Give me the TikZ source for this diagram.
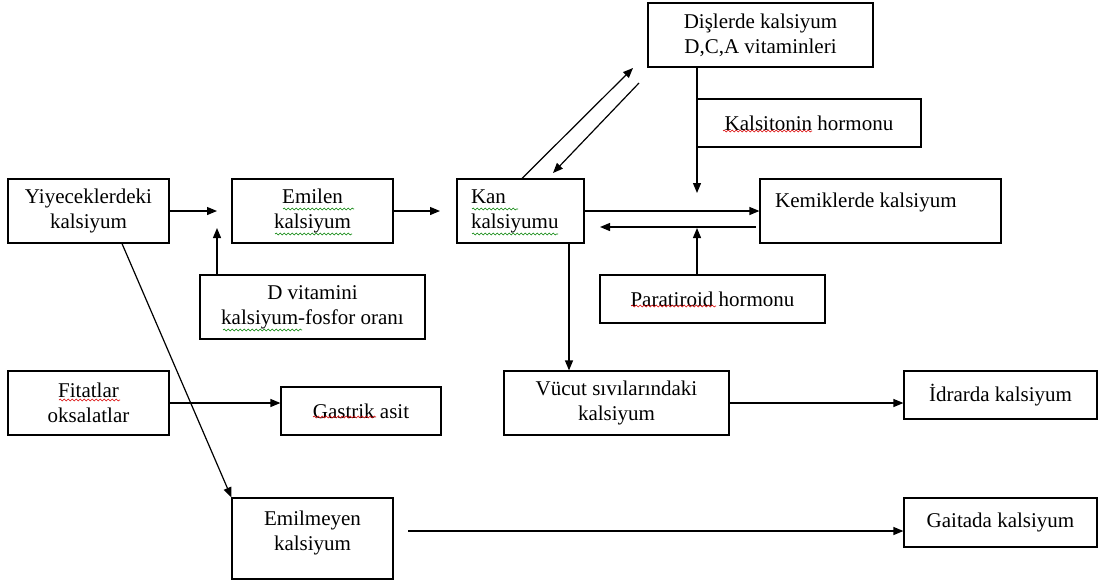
\documentclass[tikz,border=0pt]{standalone}
\usepackage{fontspec}
\setmainfont{Liberation Serif}
\usetikzlibrary{arrows.meta,decorations.pathmorphing}
\begin{document}
\begin{tikzpicture}[x=1pt,y=-1pt,
  txt/.style={font=\fontsize{21}{25}\selectfont},
  box/.style={draw, line width=1.2pt, inner sep=0pt, align=center, txt},
  conn/.style={line width=1.2pt, -{Triangle[length=10pt,width=8pt]}},
  squig/.style={line width=0.6pt, decorate, decoration={snake, segment length=4pt, amplitude=0.9pt}},
  sqred/.style={squig, draw=red!85!black},
  sqgreen/.style={squig, draw=green!50!black}]
\useasboundingbox (0,0) rectangle (1099,584);
% boxes
\node[box, minimum width=161pt, minimum height=64pt] (yiy) at (88.5,211) {Yiyeceklerdeki\\kalsiyum};
\node[box, minimum width=161pt, minimum height=64pt] (emi) at (312.5,211) {Emilen\\kalsiyum};
\node[box, minimum width=127pt, minimum height=64pt, text width=99pt, inner xsep=14pt, align=left] (kan) at (520.5,211) {Kan\\kalsiyumu};
\node[box, minimum width=225pt, minimum height=64pt] (dis) at (760.5,35) {Dişlerde kalsiyum\\D,C,A vitaminleri};
\node[box, minimum width=224pt, minimum height=48pt] (kalc) at (809,123) {Kalsitonin hormonu};
\node[box, minimum width=241pt, minimum height=64pt] (kem) at (880.5,211) {};
\node[txt, anchor=base west, inner sep=0pt] (kemt) at (775,207) {Kemiklerde kalsiyum};
\node[box, minimum width=225pt, minimum height=48pt] (para) at (712.5,299) {Paratiroid hormonu};
\node[box, minimum width=225pt, minimum height=64pt] (dvit) at (312.5,307) {D vitamini\\kalsiyum-fosfor oranı};
\node[box, minimum width=225pt, minimum height=64pt] (vuc) at (616.5,403) {Vücut sıvılarındaki\\kalsiyum};
\node[box, minimum width=193pt, minimum height=48pt] (idr) at (1000.5,395) {İdrarda kalsiyum};
\node[box, minimum width=161pt, minimum height=64pt] (fit) at (88.5,403) {Fitatlar\\oksalatlar};
\node[box, minimum width=160pt, minimum height=48pt] (gas) at (361,411) {Gastrik asit};
\node[box, minimum width=161pt, minimum height=81pt] (emy) at (312.5,538.5) {};
\node[txt, align=center, inner sep=0pt] (emyt) at (312.5,533) {Emilmeyen\\kalsiyum};
\node[box, minimum width=193pt, minimum height=49pt] (gai) at (1000.5,522.5) {Gaitada kalsiyum};
% spell-check underlines
\draw[sqgreen] (283,209) -- (354,209);
\draw[sqgreen] (275,234) -- (352,234);
\draw[sqgreen] (472,209) -- (518,209);
\draw[sqgreen] (472,234) -- (558,234);
\draw[sqgreen] (223,330) -- (302,330);
\draw[sqred] (723,131) -- (812,131);
\draw[sqred] (631,306) -- (716,306);
\draw[sqred] (59,400) -- (120,400);
\draw[sqred] (313,417) -- (376,417);
% free ends
\coordinate (a1) at (217,211);
\coordinate (a2) at (217,228);
\coordinate (a3) at (440,211);
\coordinate (d1s) at (522,179);
\coordinate (d1e) at (633,68);
\coordinate (d2s) at (639,83);
\coordinate (d2e) at (553,173);
\coordinate (v1) at (697,193);
\coordinate (h1s) at (756,227);
\coordinate (h1e) at (600,227);
\coordinate (v2) at (697,228);
\coordinate (v3) at (569,0);
\coordinate (d3) at (122,0);
\coordinate (h2s) at (408,531);
% connectors
\draw[conn] (yiy.east) -- (a1);
\draw[conn] (dvit.north -| a2) -- (a2);
\draw[conn] (emi.east) -- (a3);
\draw[conn] (kan.north -| d1s) -- (d1e);
\draw[conn] (d2s) -- (d2e);
\draw[conn] (dis.south -| v1) -- (v1);
\draw[conn] (kan.east) -- (kem.west);
\draw[conn] (h1s) -- (h1e);
\draw[conn] (para.north -| v2) -- (v2);
\draw[conn] (kan.south -| v3) -- (vuc.north -| v3);
\draw[conn] (vuc.east) -- (idr.west |- vuc.east);
\draw[conn] (fit.east) -- (gas.west |- fit.east);
\draw[conn] (yiy.south -| d3) -- (emy.north west);
\draw[conn] (h2s) -- (gai.west |- h2s);
\end{tikzpicture}
\end{document}
